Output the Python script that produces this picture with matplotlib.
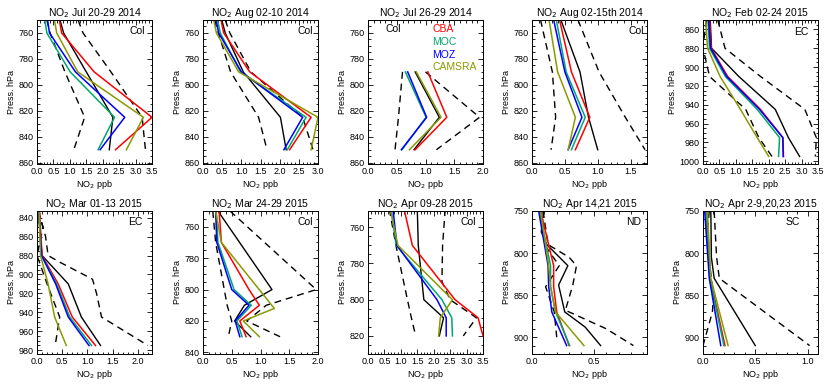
import matplotlib
matplotlib.use("Agg")
import matplotlib.pyplot as plt
from matplotlib.ticker import MultipleLocator

plt.rcParams['font.family'] = ['Liberation Sans', 'DejaVu Sans']

C_CBA = '#ff0000'
C_MOC = '#00a86b'
C_MOZ = '#0000ff'
C_CAMS = '#8a9a00'

titles = ['NO$_2$ Jul 20-29 2014', 'NO$_2$ Aug 02-10 2014', 'NO$_2$ Jul 26-29 2014',
          'NO$_2$ Aug 02-15th 2014', 'NO$_2$ Feb 02-24 2015',
          'NO$_2$ Mar 01-13 2015', 'NO$_2$ Mar 24-29 2015', 'NO$_2$ Apr 09-28 2015',
          'NO$_2$ Apr 14,21 2015', 'NO$_2$ Apr 2-9,20,23 2015']
regions = ['Col', 'Col', 'Col', 'Col', 'EC', 'EC', 'Col', 'Col', 'ND', 'SC']
legend_names = ['CBA', 'MOC', 'MOZ', 'CAMSRA']

# ---- Panel 1: Jul 20-29 2014
p1_lev = [750, 760, 790, 825, 850]
p1_cba = [0.68, 0.75, 1.74, 3.50, 2.39]
p1_moc = [0.24, 0.30, 1.01, 2.36, 1.86]
p1_moz = [0.32, 0.38, 1.17, 2.67, 1.92]
p1_cams = [0.53, 0.60, 1.24, 3.24, 2.72]
p1_obs = [0.70, 0.81, 1.50, 2.31, 2.20]
p1_lo = [0.30, 0.40, 0.85, 1.45, 1.12]
p1_hi = [1.25, 1.40, 2.25, 3.20, 3.30]

# ---- Panel 2: Aug 02-10 2014
p2_lev = [750, 760, 790, 825, 850]
p2_cba = [0.47, 0.54, 1.22, 2.82, 2.26]
p2_moc = [0.38, 0.45, 0.98, 2.69, 2.20]
p2_moz = [0.34, 0.41, 1.00, 2.60, 2.11]
p2_cams = [0.28, 0.35, 0.93, 3.00, 2.82]
p2_obs = [0.49, 0.58, 1.05, 2.02, 2.17]
p2_lo = [0.30, 0.40, 0.72, 1.45, 1.67]
p2_hi = [0.58, 0.70, 1.25, 2.60, 2.87]

# ---- Panel 3: Jul 26-29 2014
p3_lev = [790, 825, 850]
p3_cba = [1.04, 1.37, 0.82]
p3_moc = [0.65, 1.01, 0.59]
p3_moz = [0.69, 1.02, 0.58]
p3_cams = [0.84, 1.27, 0.72]
p3_obs = [0.82, 1.24, 0.80]
p3_lo = [0.60, 0.53, 0.47]
p3_hi = [1.00, 1.94, 1.19]

# ---- Panel 4: Aug 02-15th 2014
p4_lev = [750, 790, 825, 850]
p4_cba = [0.42, 0.60, 0.88, 0.66]
p4_moc = [0.37, 0.52, 0.81, 0.60]
p4_moz = [0.33, 0.50, 0.76, 0.55]
p4_cams = [0.26, 0.39, 0.66, 0.55]
p4_obs = [0.44, 0.73, 0.86, 1.00]
p4_lo = [0.13, 0.31, 0.36, 0.29]
p4_hi = [0.70, 1.02, 1.42, 1.72]

# ---- Panel 5: Feb 02-24 2015
p5_lev = [850, 880, 910, 945, 975, 995]
p5_cba = [0.20, 0.25, 0.75, 1.75, 2.43, 2.45]
p5_moc = [0.15, 0.20, 0.68, 1.65, 2.33, 2.30]
p5_moz = [0.17, 0.23, 0.72, 1.72, 2.43, 2.44]
p5_cams = [0.08, 0.14, 0.52, 1.14, 1.65, 2.00]
p5_obs = [0.22, 0.26, 1.09, 2.20, 2.60, 2.94]
p5_lo = [0.10, 0.00, 0.20, 1.30, 1.70, 2.10]
p5_hi = [0.45, 0.67, 1.75, 3.10, 3.45, 3.42]

# ---- Panel 6: Mar 01-13 2015
p6_lev = [833, 880, 910, 945, 975]
p6_cba = [0.05, 0.10, 0.42, 0.70, 1.16]
p6_moc = [0.04, 0.09, 0.39, 0.65, 1.08]
p6_moz = [0.03, 0.09, 0.37, 0.62, 1.03]
p6_cams = [0.04, 0.07, 0.22, 0.35, 0.58]
p6_obs = [0.03, 0.10, 0.62, 0.88, 1.26]
p6_lo_lev = [833, 850, 880, 910, 945, 975]
p6_lo = [0.02, 0.12, 0.00, 0.20, 0.45, 0.36]
p6_hi_lev = [833, 860, 880, 887, 905, 920, 945, 975]
p6_hi = [0.03, 0.17, 0.22, 0.45, 1.10, 1.18, 1.28, 2.20]

# ---- Panel 7: Mar 24-29 2015
p7_lev = [750, 770, 800, 810, 820, 830]
p7_cba = [0.28, 0.32, 0.80, 0.98, 0.64, 0.75]
p7_moc = [0.23, 0.26, 0.54, 0.84, 0.59, 0.68]
p7_moz = [0.22, 0.24, 0.50, 0.80, 0.56, 0.64]
p7_cams_lev = [750, 770, 812, 820, 830]
p7_cams = [0.22, 0.32, 1.24, 0.70, 0.98]
p7_obs_lev = [750, 800, 810, 820, 830]
p7_obs = [0.26, 1.20, 0.72, 0.55, 0.83]
p7_lo = [0.17, 0.22, 0.37, 0.42, 0.50, 0.44]
p7_hi_lev = [750, 800, 810, 820, 830]
p7_hi = [0.47, 1.97, 1.10, 0.76, 1.34]

# ---- Panel 8: Apr 09-28 2015
p8_lev = [750, 770, 800, 810, 820]
p8_cba = [1.10, 1.35, 2.65, 3.35, 3.50]
p8_moc = [0.70, 0.86, 2.25, 2.55, 2.57]
p8_moz = [0.76, 0.88, 2.10, 2.38, 2.38]
p8_cams = [0.68, 0.91, 2.57, 2.20, 2.15]
p8_obs = [1.50, 1.53, 1.70, 2.30, 2.17]
p8_lo = [0.65, 0.85, 1.20, 1.32, 1.45]
p8_hi_lev = [750, 770, 790, 800, 810, 820]
p8_hi = [2.35, 2.27, 2.25, 2.50, 3.30, 2.90]

# ---- Panel 9: Apr 14,21 2015
p9_lev = [750, 815, 840, 870, 910]
p9_cba = [0.07, 0.175, 0.175, 0.20, 0.30]
p9_moc = [0.06, 0.15, 0.15, 0.19, 0.305]
p9_moz = [0.054, 0.13, 0.135, 0.16, 0.28]
p9_cams = [0.07, 0.135, 0.15, 0.19, 0.42]
p9_obs_lev = [750, 760, 775, 790, 815, 838, 870, 888, 910]
p9_obs = [0.07, 0.085, 0.075, 0.12, 0.29, 0.215, 0.265, 0.43, 0.555]
p9_lo_lev = [750, 790, 815, 840, 870, 900]
p9_lo = [0.09, 0.10, 0.22, 0.11, 0.18, 0.20]
p9_hi_lev = [750, 790, 805, 815, 838, 868, 878, 890, 910]
p9_hi = [0.09, 0.13, 0.30, 0.36, 0.33, 0.27, 0.42, 0.60, 0.82]

# ---- Panel 10: Apr 2-9,20,23 2015
p10_lev = [750, 830, 910]
p10_cba = [0.036, 0.070, 0.21]
p10_moc = [0.026, 0.065, 0.20]
p10_moz = [0.016, 0.060, 0.17]
p10_cams = [0.042, 0.075, 0.24]
p10_obs_lev = [750, 805, 830, 910]
p10_obs = [0.075, 0.080, 0.107, 0.50]
p10_lo_lev = [750, 780, 800, 850, 870, 910]
p10_lo = [0.06, 0.04, 0.05, 0.10, 0.09, 0.00]
p10_hi_lev = [750, 805, 830, 910]
p10_hi = [0.107, 0.13, 0.156, 1.02]

xlims = [(0, 3.5), (0, 3.0), (0, 2.0), (0, 1.75), (0, 3.5),
         (0, 2.28), (0, 2.0), (0, 3.5), (0, 0.93), (0, 1.1)]
ylims = [(861, 750), (861, 750), (861, 750), (861, 750), (1003, 850),
         (984, 833), (841, 750), (830, 751), (920, 750), (920, 750)]
yticks_major = [20, 20, 20, 20, 20, 20, 20, 20, 50, 50]
xticks_major = [0.5, 0.5, 0.5, 0.5, 0.5, 0.5, 0.5, 0.5, 0.5, 0.5]

panels = [
    dict(cba=(p1_cba, p1_lev), moc=(p1_moc, p1_lev), moz=(p1_moz, p1_lev), cams=(p1_cams, p1_lev),
         obs=(p1_obs, p1_lev), lo=(p1_lo, p1_lev), hi=(p1_hi, p1_lev)),
    dict(cba=(p2_cba, p2_lev), moc=(p2_moc, p2_lev), moz=(p2_moz, p2_lev), cams=(p2_cams, p2_lev),
         obs=(p2_obs, p2_lev), lo=(p2_lo, p2_lev), hi=(p2_hi, p2_lev)),
    dict(cba=(p3_cba, p3_lev), moc=(p3_moc, p3_lev), moz=(p3_moz, p3_lev), cams=(p3_cams, p3_lev),
         obs=(p3_obs, p3_lev), lo=(p3_lo, p3_lev), hi=(p3_hi, p3_lev)),
    dict(cba=(p4_cba, p4_lev), moc=(p4_moc, p4_lev), moz=(p4_moz, p4_lev), cams=(p4_cams, p4_lev),
         obs=(p4_obs, p4_lev), lo=(p4_lo, p4_lev), hi=(p4_hi, p4_lev)),
    dict(cba=(p5_cba, p5_lev), moc=(p5_moc, p5_lev), moz=(p5_moz, p5_lev), cams=(p5_cams, p5_lev),
         obs=(p5_obs, p5_lev), lo=(p5_lo, p5_lev), hi=(p5_hi, p5_lev)),
    dict(cba=(p6_cba, p6_lev), moc=(p6_moc, p6_lev), moz=(p6_moz, p6_lev), cams=(p6_cams, p6_lev),
         obs=(p6_obs, p6_lev), lo=(p6_lo, p6_lo_lev), hi=(p6_hi, p6_hi_lev)),
    dict(cba=(p7_cba, p7_lev), moc=(p7_moc, p7_lev), moz=(p7_moz, p7_lev), cams=(p7_cams, p7_cams_lev),
         obs=(p7_obs, p7_obs_lev), lo=(p7_lo, p7_lev), hi=(p7_hi, p7_hi_lev)),
    dict(cba=(p8_cba, p8_lev), moc=(p8_moc, p8_lev), moz=(p8_moz, p8_lev), cams=(p8_cams, p8_lev),
         obs=(p8_obs, p8_lev), lo=(p8_lo, p8_lev), hi=(p8_hi, p8_hi_lev)),
    dict(cba=(p9_cba, p9_lev), moc=(p9_moc, p9_lev), moz=(p9_moz, p9_lev), cams=(p9_cams, p9_lev),
         obs=(p9_obs, p9_obs_lev), lo=(p9_lo, p9_lo_lev), hi=(p9_hi, p9_hi_lev)),
    dict(cba=(p10_cba, p10_lev), moc=(p10_moc, p10_lev), moz=(p10_moz, p10_lev), cams=(p10_cams, p10_lev),
         obs=(p10_obs, p10_obs_lev), lo=(p10_lo, p10_lo_lev), hi=(p10_hi, p10_hi_lev)),
]

# layout in pixels
W, H = 831, 384
lefts = [37, 203, 368, 532, 703]
ax_w = 115
rows = [(20, 164), (211, 354)]
label_pos = [(0.94, 0.925), (0.955, 0.925), (0.15, 0.935), (0.975, 0.925), (0.92, 0.92),
             (0.92, 0.92), (0.96, 0.925), (0.94, 0.925), (0.945, 0.92), (0.84, 0.92)]

fig = plt.figure(figsize=(W / 100, H / 100), dpi=100)
for i in range(10):
    r, c = divmod(i, 5)
    top, bot = rows[r]
    ax = fig.add_axes([lefts[c] / W, 1 - bot / H, ax_w / W, (bot - top) / H])
    d = panels[i]
    x, p = d['lo']
    ax.plot(x, p, color='k', lw=1.0, dashes=(5, 3.5))
    x, p = d['hi']
    ax.plot(x, p, color='k', lw=1.0, dashes=(5, 3.5))
    x, p = d['obs']
    ax.plot(x, p, color='k', lw=1.0)
    for key, col in [('cba', C_CBA), ('moc', C_MOC), ('moz', C_MOZ), ('cams', C_CAMS)]:
        x, p = d[key]
        ax.plot(x, p, color=col, lw=1.1)
    ax.set_xlim(*xlims[i])
    ax.set_ylim(*ylims[i])
    ax.xaxis.set_major_locator(MultipleLocator(xticks_major[i]))
    ax.xaxis.set_minor_locator(MultipleLocator(0.1))
    ax.yaxis.set_major_locator(MultipleLocator(yticks_major[i]))
    ax.yaxis.set_minor_locator(MultipleLocator(10 if yticks_major[i] == 50 else 5))
    ax.tick_params(which='both', direction='in', top=True, right=True, labelsize=6.5,
                   width=0.6, pad=2.5)
    ax.tick_params(which='major', length=3.5)
    ax.tick_params(which='minor', length=1.8)
    ax.xaxis.set_major_formatter(matplotlib.ticker.FormatStrFormatter('%.1f'))
    for s in ax.spines.values():
        s.set_linewidth(0.7)
    ax.set_title(titles[i], fontsize=7.5, pad=1.5)
    ax.set_xlabel('NO$_2$ ppb', fontsize=6.5, labelpad=1)
    ax.set_ylabel('Press. hPa', fontsize=6.5, labelpad=2)
    lx, ly = label_pos[i]
    ha = 'left' if i == 2 else 'right'
    ax.text(lx, ly, regions[i], transform=ax.transAxes, ha=ha, va='center', fontsize=7.5)
    if i == 2:
        for name, col, yy in zip(legend_names, [C_CBA, C_MOC, C_MOZ, C_CAMS],
                                 [0.935, 0.848, 0.76, 0.672]):
            ax.text(0.557, yy, name, color=col, transform=ax.transAxes,
                    ha='left', va='center', fontsize=7.5)

fig.savefig('out.png', dpi=100)
